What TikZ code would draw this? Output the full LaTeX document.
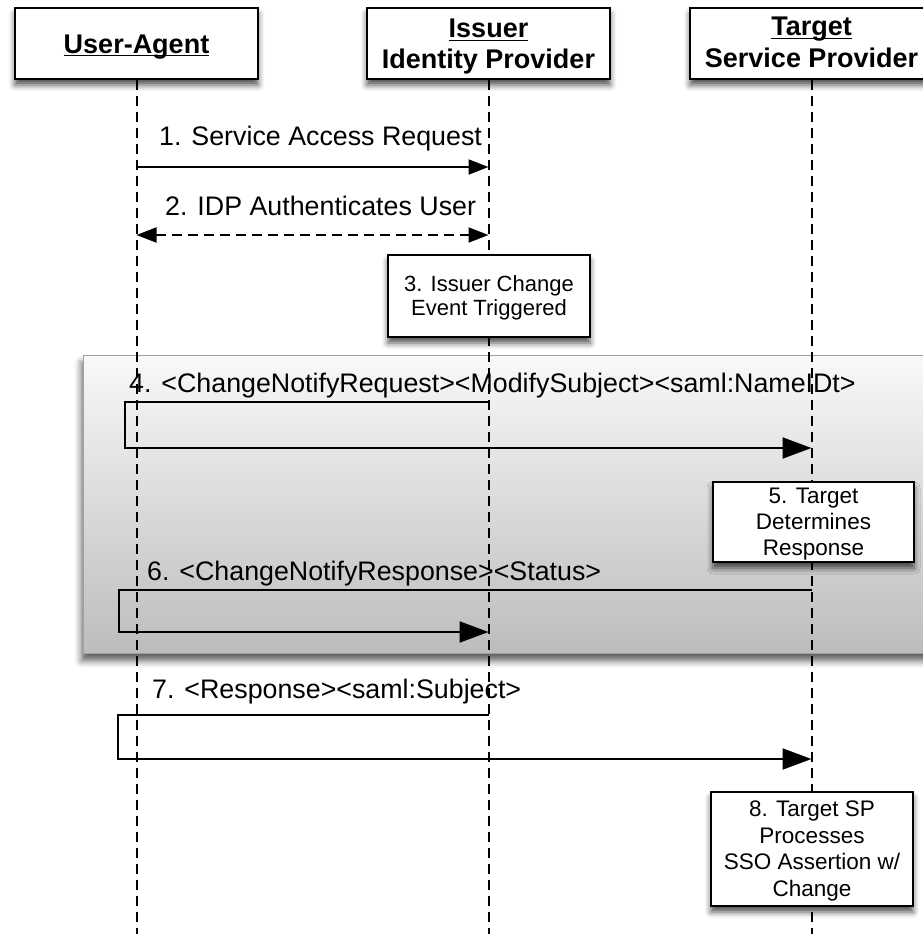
\documentclass[tikz,border=0pt]{standalone}
\usepackage{fontspec}
\setmainfont{Liberation Sans}
\usetikzlibrary{arrows.meta,shadows.blur}
\newcommand{\myul}[1]{\setbox0\hbox{#1}\rlap{\rule[-3.5pt]{\wd0}{1.7pt}}\box0}
\begin{document}
\begin{tikzpicture}[x=1pt,y=-1pt,
  shad/.style={blur shadow={shadow xshift=0pt, shadow yshift=-6pt, shadow blur radius=6pt, shadow opacity=70}},
  actor/.style={draw=black, line width=2pt, fill=white, minimum width=243pt, minimum height=71pt, inner sep=0pt, shad},
  actortext/.style={anchor=base, inner sep=0pt, font=\fontsize{27}{30}\selectfont\bfseries},
  stepbox/.style={draw=black, line width=2pt, fill=white, inner sep=0pt, align=center, shad},
  steptext/.style={align=center, inner sep=0pt},
  life/.style={line width=2pt, dash pattern=on 10pt off 6pt},
  lbl/.style={anchor=base west, inner sep=0pt, font=\fontsize{26.8}{30}\selectfont},
  small/.style={-{Triangle[length=20pt,width=15pt]}, line width=2pt},
  big/.style={-{Triangle[length=29pt,width=21pt]}, line width=2pt}
]
\useasboundingbox (0,0) rectangle (922,934);
% grey region
\node[draw=gray!75, line width=1pt, top color=gray!5, bottom color=gray!52, minimum width=860pt, minimum height=298pt, inner sep=0pt, anchor=north west, blur shadow={shadow xshift=-2pt, shadow yshift=-7pt, shadow blur radius=7pt, shadow opacity=65}] (region) at (83,355) {};
% actors
\node[actor] (ua) at (136.5,43.5) {};
\node[actor] (idp) at (488.5,43.5) {};
\node[actor] (sp) at (811.5,43.5) {};
\node[actortext] (uat) at (136.5,53) {\myul{User-Agent}};
\node[actortext] (idpt1) at (488.5,38) {\myul{Issuer}};
\node[actortext] (idpt2) at (488.5,69) {Identity Provider};
\node[actortext] (spt1) at (811.5,36) {\myul{Target}};
\node[actortext] (spt2) at (811.5,67) {Service Provider};
% lifelines
\coordinate (uaEnd) at (136.5,940);
\coordinate (idpEnd) at (488.5,940);
\coordinate (spEnd) at (811.5,940);
\draw[life] (ua.south) -- (uaEnd);
\draw[life] (idp.south) -- (idpEnd);
\draw[life] (sp.south) -- (spEnd);
% step boxes
\node[stepbox, minimum width=202pt, minimum height=82pt] (s3) at (489,296) {};
\node[stepbox, minimum width=201pt, minimum height=80pt] (s5) at (813.5,522) {};
\node[stepbox, minimum width=202pt, minimum height=114pt] (s8) at (812,849) {};
\node[steptext, font=\fontsize{22}{24}\selectfont] (s3t) at (489,298) {3. Issuer Change\\Event Triggered};
\node[steptext, font=\fontsize{22.5}{26}\selectfont] (s5t) at (813.5,524) {5. Target\\Determines\\Response};
\node[steptext, font=\fontsize{22.5}{26.5}\selectfont] (s8t) at (812,851) {8. Target SP\\Processes\\SSO Assertion w/\\Change};
% labels
\node[lbl] (l1) at (159,145) {1. Service Access Request};
\node[lbl] (l2) at (165,215) {2. IDP Authenticates User};
\node[lbl] (l4) at (129,392) {4. <ChangeNotifyRequest><ModifySubject><saml:NameIDt>};
\node[lbl] (l6) at (147,580) {6. <ChangeNotifyResponse><Status>};
\node[lbl] (l7) at (152,698) {7. <Response><saml:Subject>};
% messages
\coordinate (m1a) at (136.5,167); \coordinate (m1b) at (488.5,167);
\draw[small] (m1a) -- (m1b);
\coordinate (m2a) at (136.5,235); \coordinate (m2b) at (488.5,235);
\draw[small, {Triangle[length=20pt,width=15pt]}-{Triangle[length=20pt,width=15pt]}, dash pattern=on 10pt off 6pt] (m2a) -- (m2b);
\coordinate (m4a) at (488.5,402); \coordinate (m4b) at (811.5,448);
\draw[big] (m4a) -- (125,402) -- (125,448) -- (m4b);
\coordinate (m6a) at (811.5,590); \coordinate (m6b) at (488.5,632);
\draw[big] (m6a) -- (119,590) -- (119,632) -- (m6b);
\coordinate (m7a) at (488.5,715); \coordinate (m7b) at (811.5,759);
\draw[big] (m7a) -- (118,715) -- (118,759) -- (m7b);
\end{tikzpicture}
\end{document}
